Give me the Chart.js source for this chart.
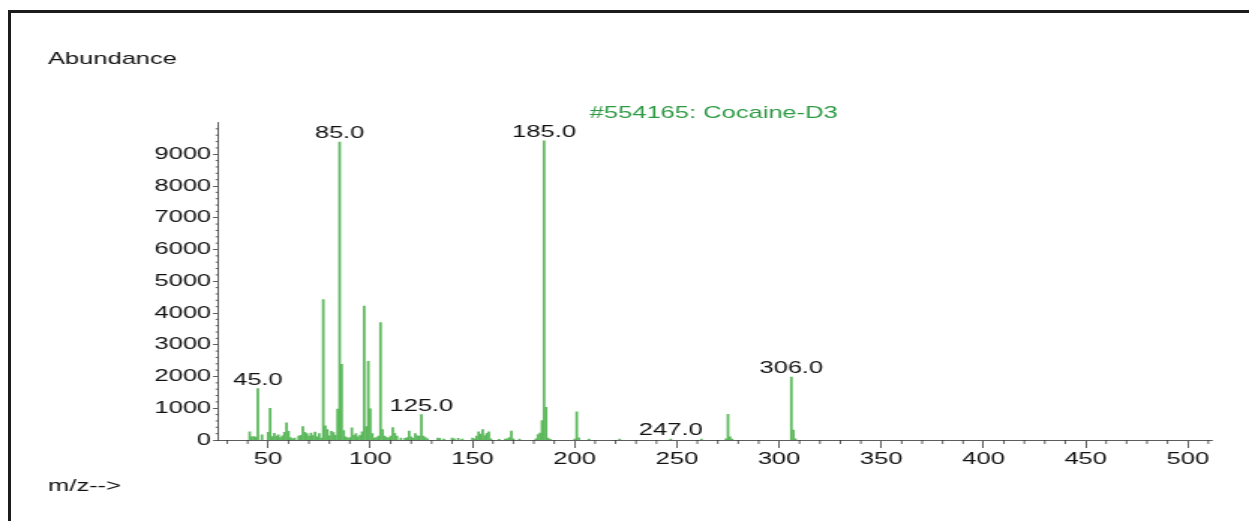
<!DOCTYPE html>
<html>
<head>
<meta charset="utf-8">
<script src="https://cdn.jsdelivr.net/npm/chart.js@4"></script>
<style>
  html, body { margin: 0; padding: 0; background: #fff; overflow: hidden; }
  #frame { position: absolute; left: 8px; top: 10px; width: 1241px; height: 511px;
           border-top: 3px solid #1c1c1c; border-left: 3px solid #1c1c1c; }
  #wrap { position: absolute; left: 0; top: 0; width: 833px; height: 521px;
          transform-origin: 0 0; }
</style>
</head>
<body>
<div id="frame"></div>
<div id="wrap"><canvas id="spec" width="833" height="521"></canvas></div>
<script>
// m/z values and their abundance
var mz = [41, 42, 43, 44, 45, 47, 50, 51, 52, 53, 54, 55, 56, 57, 58, 59, 60, 61, 62, 63,
          65, 66, 67, 68, 69, 70, 71, 72, 73, 74, 75, 76, 77, 78, 79, 80, 81, 82, 83, 84,
          85, 86, 87, 88, 89, 90, 91, 92, 93, 94, 95, 96, 97, 98, 99, 100, 101, 102, 103, 104,
          105, 106, 107, 108, 109, 110, 111, 112, 113, 115, 117, 118, 119, 120, 121, 122, 123, 124, 125, 126,
          127, 128, 133, 134, 136, 140, 141, 143, 145, 150, 151, 152, 153, 154, 155, 156, 157, 158, 159, 163,
          166, 167, 168, 169, 170, 173, 181, 182, 183, 184, 185, 186, 187, 188, 200, 201, 202, 207, 222, 247,
          262, 274, 275, 276, 277, 306, 307, 308];
var abundance = [260, 100, 110, 90, 1620, 160, 240, 1000, 110, 210, 120, 160, 80, 130, 240, 540, 270, 80, 40, 60,
          120, 150, 420, 240, 200, 120, 220, 140, 250, 100, 200, 60, 4420, 450, 330, 130, 270, 230, 150, 970,
          9380, 2380, 300, 100, 60, 80, 380, 150, 200, 100, 150, 260, 4220, 420, 2480, 980, 200, 60, 80, 120,
          3700, 330, 120, 80, 70, 120, 390, 210, 120, 60, 50, 80, 280, 100, 50, 200, 130, 120, 800, 120,
          80, 40, 60, 50, 30, 60, 40, 50, 30, 60, 40, 120, 260, 190, 330, 140, 210, 260, 40, 20,
          30, 40, 80, 280, 40, 30, 40, 170, 220, 610, 9420, 1030, 60, 20, 30, 890, 70, 30, 30, 30,
          30, 40, 810, 100, 30, 1980, 310, 40];
var labelledPeaks = [45, 85, 125, 185, 247, 306];
var xTicks = [50, 100, 150, 200, 250, 300, 350, 400, 450, 500];
var yTicks = [0, 1000, 2000, 3000, 4000, 5000, 6000, 7000, 8000, 9000];
var libraryTitle = "#554165: Cocaine-D3";

// the original text is drawn wide, so the whole canvas is stretched sideways
var S = 1249 / 833;
document.getElementById('wrap').style.transform = 'scaleX(' + S + ')';

Chart.defaults.font.family = "'Liberation Sans', Arial, sans-serif";
Chart.defaults.font.size = 17;
Chart.defaults.color = '#111';

var points = [];
for (var i = 0; i < mz.length; i++) {
    points.push({ x: mz[i], y: abundance[i] });
}

var extras = {
    id: 'extras',
    afterDraw: function (chart) {
        var ctx = chart.ctx;
        var xs = chart.scales.x, ys = chart.scales.y, area = chart.chartArea;
        ctx.save();
        ctx.strokeStyle = '#333';
        ctx.lineWidth = 0.8;
        // minor ticks
        for (var v = 30; v <= 510; v += 10) {
            if (v % 50 == 0) continue;
            var px = xs.getPixelForValue(v);
            ctx.beginPath(); ctx.moveTo(px, area.bottom); ctx.lineTo(px, area.bottom + 4); ctx.stroke();
        }
        for (var w = 200; w <= 10000; w += 200) {
            if (w % 1000 == 0) continue;
            var py = ys.getPixelForValue(w);
            ctx.beginPath(); ctx.moveTo(area.left - 1.6, py); ctx.lineTo(area.left, py); ctx.stroke();
        }
        ctx.font = "17px 'Liberation Sans', Arial, sans-serif";
        ctx.fillStyle = '#111';
        // peak labels
        ctx.textAlign = 'center';
        ctx.textBaseline = 'alphabetic';
        for (var k = 0; k < labelledPeaks.length; k++) {
            var m = labelledPeaks[k];
            var idx = mz.indexOf(m);
            var top = ys.getPixelForValue(abundance[idx]);
            ctx.fillText(m.toFixed(1), xs.getPixelForValue(m), top - 4);
        }
        // axis captions
        ctx.textAlign = 'left';
        ctx.textBaseline = 'middle';
        ctx.fillText('Abundance', 48 / S, 59);
        ctx.fillText('m/z-->', 48 / S, 486);
        // library hit
        ctx.fillStyle = '#2e9a44';
        ctx.fillText(libraryTitle, area.left + 0.374 * (area.right - area.left), 113);
        ctx.restore();
    }
};

var chart = new Chart(document.getElementById('spec'), {
    type: 'bar',
    data: {
        datasets: [{
            data: points,
            backgroundColor: '#5cb85c',
            borderWidth: 0,
            barThickness: 1.1,
            grouped: false
        }]
    },
    options: {
        responsive: false,
        animation: false,
        layout: { padding: { top: 122.5, right: 833 - 1212 / S, left: 0, bottom: 0 } },
        plugins: { legend: { display: false }, tooltip: { enabled: false } },
        scales: {
            x: {
                type: 'linear',
                offset: false,
                min: 25.5,
                max: 511.8,
                afterBuildTicks: function (scale) {
                    scale.ticks = xTicks.map(function (t) { return { value: t }; });
                },
                afterFit: function (scale) { scale.height = 81; },
                grid: { drawOnChartArea: false, offset: false, tickLength: 8, color: '#333', lineWidth: 0.8 },
                border: { color: '#333', width: 0.8 },
                ticks: { padding: 1, maxRotation: 0, autoSkip: false,
                         callback: function (v) { return String(v); } }
            },
            y: {
                min: 0,
                max: 10000,
                afterBuildTicks: function (scale) {
                    scale.ticks = yTicks.map(function (t) { return { value: t }; });
                },
                afterFit: function (scale) { scale.width = 218 / S; },
                grid: { drawOnChartArea: false, tickLength: 3.3, color: '#333', lineWidth: 0.8 },
                border: { color: '#333', width: 0.8 },
                ticks: { padding: 1.3, callback: function (v) { return String(v); } }
            }
        }
    },
    plugins: [extras]
});
</script>
</body>
</html>
